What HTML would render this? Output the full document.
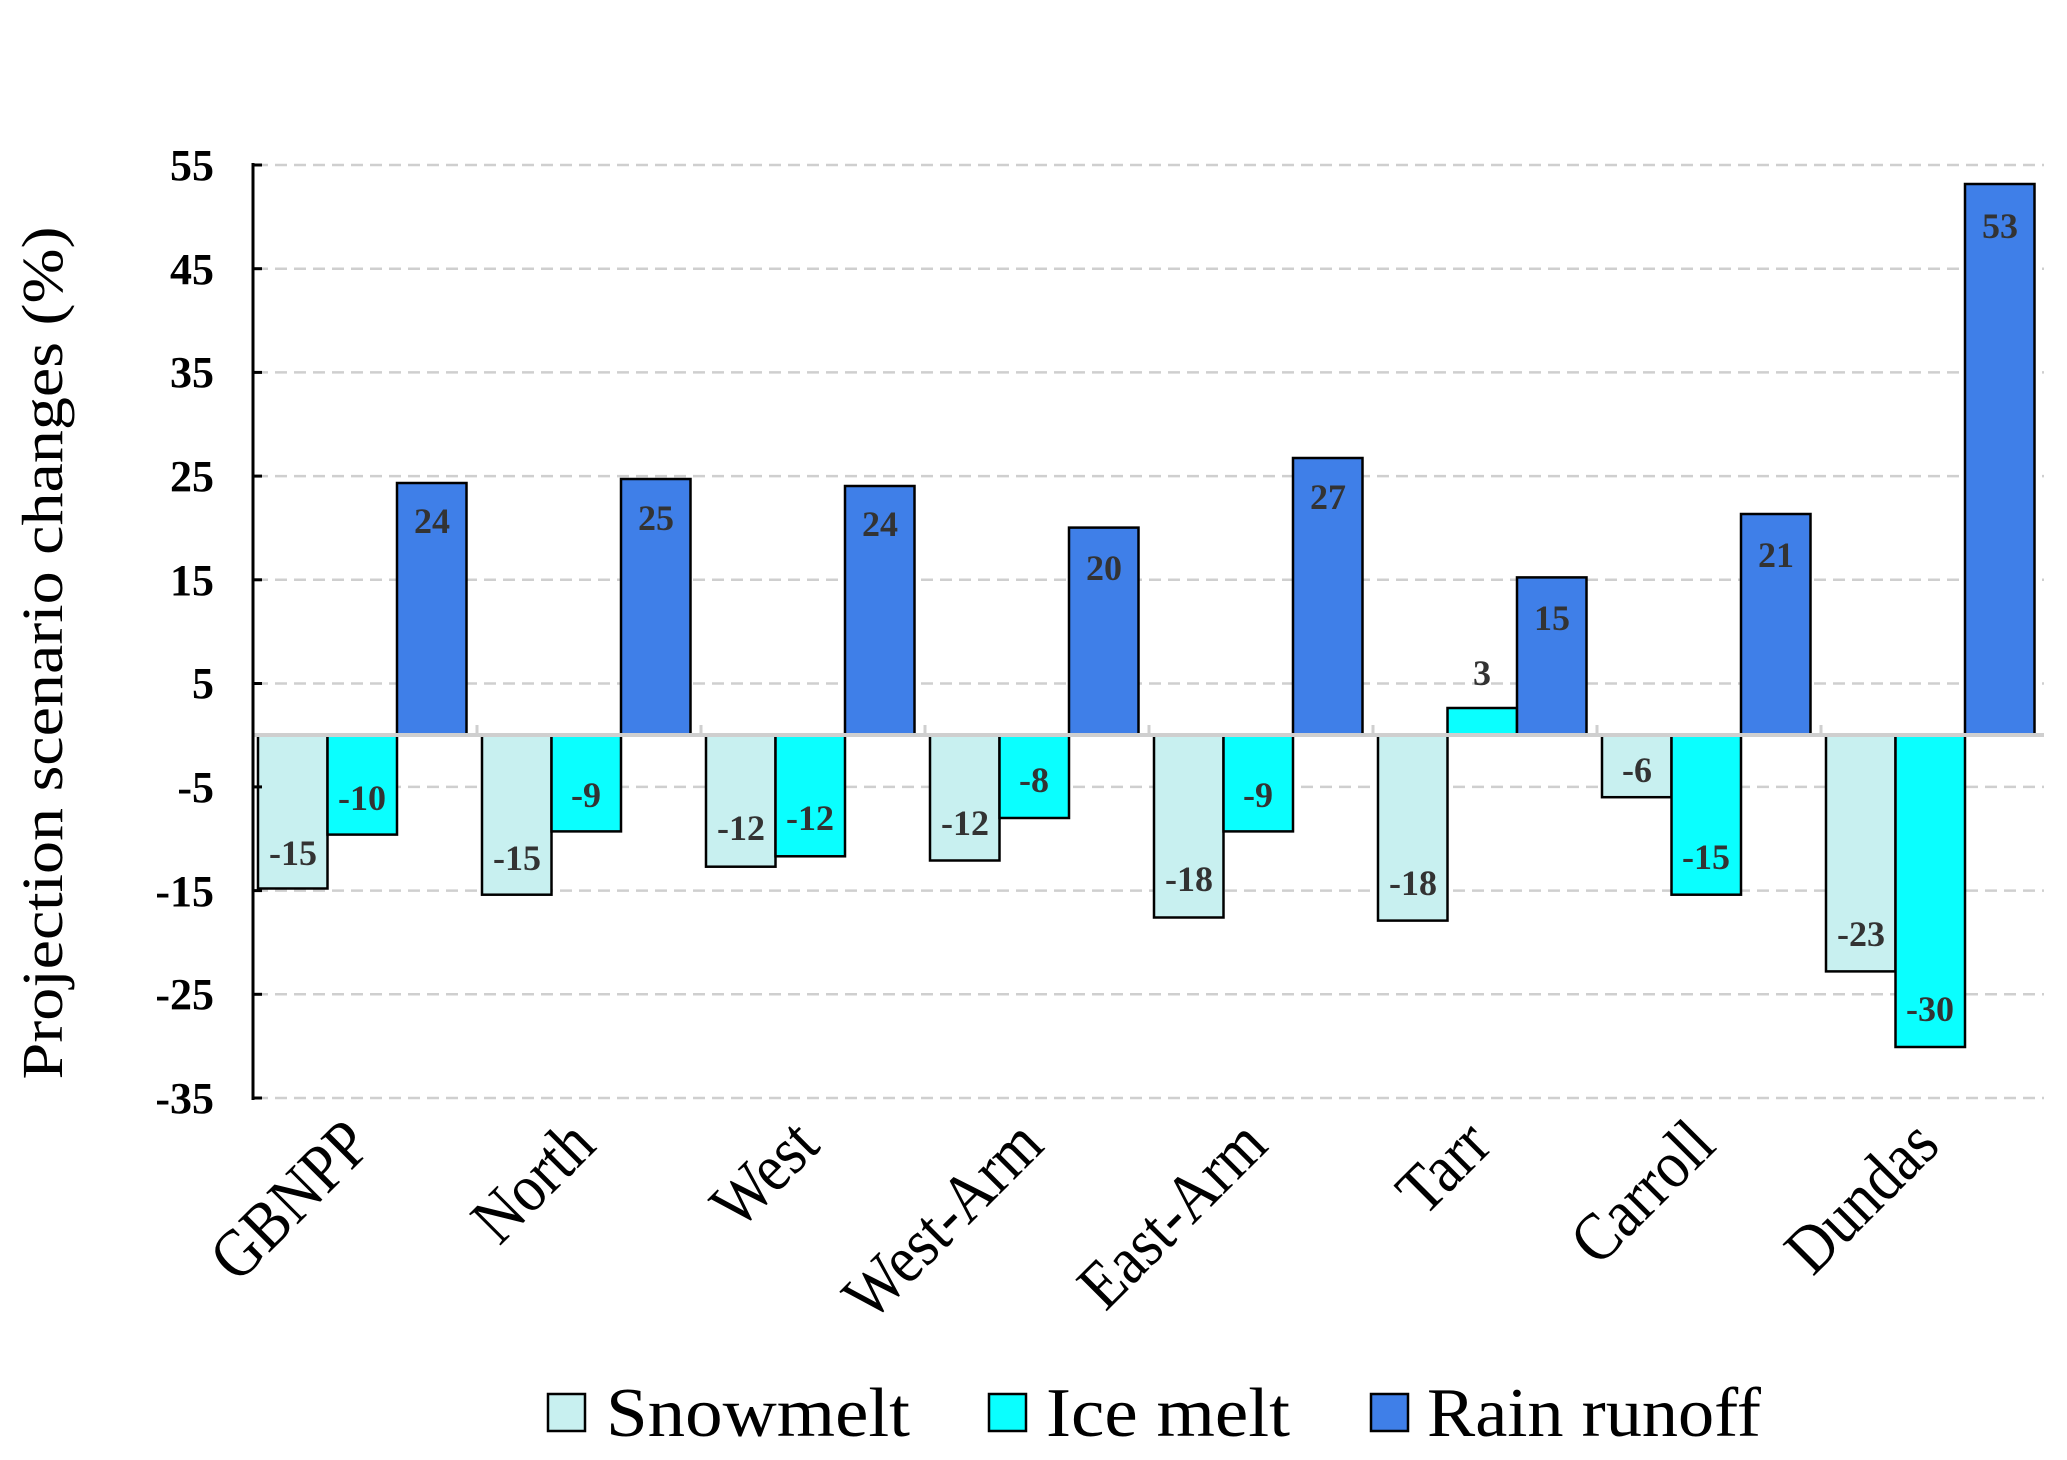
<!DOCTYPE html>
<html><head><meta charset="utf-8"><style>body{margin:0;background:#fff}svg{display:block}</style></head>
<body>
<svg width="2067" height="1460" viewBox="0 0 2067 1460" xmlns="http://www.w3.org/2000/svg" font-family="Liberation Serif, serif">
<g stroke="#cfcfcf" stroke-width="2.5" stroke-dasharray="12,7">
<line x1="256" y1="165" x2="2044" y2="165"/>
<line x1="256" y1="268.7" x2="2044" y2="268.7"/>
<line x1="256" y1="372.4" x2="2044" y2="372.4"/>
<line x1="256" y1="476.1" x2="2044" y2="476.1"/>
<line x1="256" y1="579.8" x2="2044" y2="579.8"/>
<line x1="256" y1="683.5" x2="2044" y2="683.5"/>
<line x1="256" y1="786.9" x2="2044" y2="786.9"/>
<line x1="256" y1="890.6" x2="2044" y2="890.6"/>
<line x1="256" y1="994.3" x2="2044" y2="994.3"/>
<line x1="256" y1="1098" x2="2044" y2="1098"/>
</g>
<g font-weight="bold" font-size="44" text-anchor="end" fill="#000">
<text x="214" y="180">55</text><text x="214" y="284">45</text><text x="214" y="387">35</text>
<text x="214" y="491">25</text><text x="214" y="595">15</text><text x="214" y="698">5</text>
<text x="214" y="802">-5</text><text x="214" y="906">-15</text><text x="214" y="1009">-25</text>
<text x="214" y="1113">-35</text>
</g>
<text transform="translate(62,653) rotate(-90)" font-size="58" text-anchor="middle" textLength="853" lengthAdjust="spacingAndGlyphs">Projection scenario changes (%)</text>
<g stroke="#000" stroke-width="2.5">
<rect x="258" y="735" width="69.5" height="153.5" fill="#c8f0f0"/><rect x="327.5" y="735" width="69.5" height="99.6" fill="#0affff"/><rect x="397" y="483" width="69.5" height="252" fill="#3f7fe8"/>
<rect x="482" y="735" width="69.5" height="159.7" fill="#c8f0f0"/><rect x="551.5" y="735" width="69.5" height="96.4" fill="#0affff"/><rect x="621" y="479" width="69.5" height="256" fill="#3f7fe8"/>
<rect x="706" y="735" width="69.5" height="131.7" fill="#c8f0f0"/><rect x="775.5" y="735" width="69.5" height="121.3" fill="#0affff"/><rect x="845" y="486" width="69.5" height="249" fill="#3f7fe8"/>
<rect x="930" y="735" width="69.5" height="125.5" fill="#c8f0f0"/><rect x="999.5" y="735" width="69.5" height="83" fill="#0affff"/><rect x="1069" y="527.6" width="69.5" height="207.4" fill="#3f7fe8"/>
<rect x="1154" y="735" width="69.5" height="182.5" fill="#c8f0f0"/><rect x="1223.5" y="735" width="69.5" height="96.4" fill="#0affff"/><rect x="1293" y="458" width="69.5" height="277" fill="#3f7fe8"/>
<rect x="1378" y="735" width="69.5" height="185.6" fill="#c8f0f0"/><rect x="1447.5" y="708" width="69.5" height="27" fill="#0affff"/><rect x="1517" y="577.4" width="69.5" height="157.6" fill="#3f7fe8"/>
<rect x="1602" y="735" width="69.5" height="62.2" fill="#c8f0f0"/><rect x="1671.5" y="735" width="69.5" height="159.7" fill="#0affff"/><rect x="1741" y="514" width="69.5" height="221" fill="#3f7fe8"/>
<rect x="1826" y="735" width="69.5" height="236.4" fill="#c8f0f0"/><rect x="1895.5" y="735" width="69.5" height="312" fill="#0affff"/><rect x="1965" y="184" width="69.5" height="551" fill="#3f7fe8"/>
</g>
<line x1="253" y1="735" x2="2044" y2="735" stroke="#cfcfcf" stroke-width="4"/>
<g stroke="#cfcfcf" stroke-width="3"><line x1="477" y1="725" x2="477" y2="737"/><line x1="701" y1="725" x2="701" y2="737"/><line x1="925" y1="725" x2="925" y2="737"/><line x1="1149" y1="725" x2="1149" y2="737"/><line x1="1373" y1="725" x2="1373" y2="737"/><line x1="1597" y1="725" x2="1597" y2="737"/><line x1="1821" y1="725" x2="1821" y2="737"/></g>
<line x1="253" y1="163" x2="253" y2="1100" stroke="#000" stroke-width="3"/>
<g stroke="#000" stroke-width="3"><line x1="253" y1="165" x2="262" y2="165"/><line x1="253" y1="268.7" x2="262" y2="268.7"/><line x1="253" y1="372.4" x2="262" y2="372.4"/><line x1="253" y1="476.1" x2="262" y2="476.1"/><line x1="253" y1="579.8" x2="262" y2="579.8"/><line x1="253" y1="683.5" x2="262" y2="683.5"/><line x1="253" y1="786.9" x2="262" y2="786.9"/><line x1="253" y1="890.6" x2="262" y2="890.6"/><line x1="253" y1="994.3" x2="262" y2="994.3"/><line x1="253" y1="1098" x2="262" y2="1098"/></g>
<g font-weight="bold" font-size="36" text-anchor="middle" fill="#333">
<text x="293" y="865">-15</text><text x="362" y="810">-10</text><text x="432" y="533">24</text>
<text x="517" y="870">-15</text><text x="586" y="807">-9</text><text x="656" y="530">25</text>
<text x="741" y="840">-12</text><text x="810" y="830">-12</text><text x="880" y="536">24</text>
<text x="965" y="835">-12</text><text x="1034" y="792">-8</text><text x="1104" y="580">20</text>
<text x="1189" y="891">-18</text><text x="1258" y="807">-9</text><text x="1328" y="509">27</text>
<text x="1413" y="895">-18</text><text x="1482" y="685">3</text><text x="1552" y="630">15</text>
<text x="1637" y="782">-6</text><text x="1706" y="869">-15</text><text x="1776" y="567">21</text>
<text x="1861" y="946">-23</text><text x="1930" y="1021">-30</text><text x="2000" y="238">53</text>
</g>
<g font-size="68" text-anchor="end">
<text transform="translate(374,1148) rotate(-45) scale(0.88,1)">GBNPP</text>
<text transform="translate(598,1148) rotate(-45) scale(0.88,1)">North</text>
<text transform="translate(822,1148) rotate(-45) scale(0.88,1)">West</text>
<text transform="translate(1046,1148) rotate(-45) scale(0.88,1)">West-Arm</text>
<text transform="translate(1270,1148) rotate(-45) scale(0.88,1)">East-Arm</text>
<text transform="translate(1494,1148) rotate(-45) scale(0.88,1)">Tarr</text>
<text transform="translate(1718,1148) rotate(-45) scale(0.88,1)">Carroll</text>
<text transform="translate(1942,1148) rotate(-45) scale(0.88,1)">Dundas</text>
</g>
<g stroke="#000" stroke-width="2.5">
<rect x="548" y="1394" width="37" height="37" fill="#c8f0f0"/>
<rect x="989" y="1394" width="37" height="37" fill="#0affff"/>
<rect x="1371" y="1394" width="37" height="37" fill="#3f7fe8"/>
</g>
<g font-size="70">
<text x="606" y="1436" textLength="304" lengthAdjust="spacingAndGlyphs">Snowmelt</text>
<text x="1046" y="1436" textLength="244" lengthAdjust="spacingAndGlyphs">Ice melt</text>
<text x="1427" y="1436" textLength="334" lengthAdjust="spacingAndGlyphs">Rain runoff</text>
</g>
</svg>
</body></html>
